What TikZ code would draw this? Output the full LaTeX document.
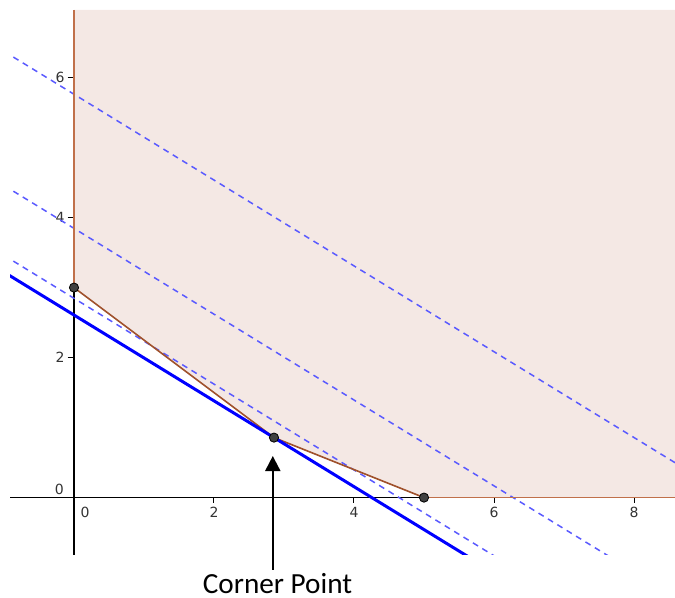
\documentclass[tikz,border=0pt]{standalone}
\usepackage{fontspec}
\setmainfont{Carlito}
\newfontfamily\axfont{DejaVu Sans}
\usetikzlibrary{arrows.meta}
\definecolor{regfill}{HTML}{F4E8E4}
\definecolor{regedge}{HTML}{C0704A}
\definecolor{regslant}{HTML}{A0522D}
\definecolor{dashblue}{HTML}{5A5AFF}
\definecolor{ptgray}{HTML}{404040}
\tikzset{
  axisline/.style={black, line width=0.6pt},
  boundary/.style={regedge, line width=0.8pt},
  slant/.style={regslant, line width=0.8pt},
  levelline/.style={dashblue, line width=0.75pt, dash pattern=on 3pt off 2.5pt},
  objline/.style={blue, line width=1.5pt},
  pt/.style={circle, fill=ptgray, draw=black, line width=0.4pt, inner sep=0pt, minimum size=4.6pt},
  ticklabel/.style={font=\axfont\fontsize{7pt}{8pt}\selectfont, text=black!80, inner sep=0pt},
  tickmark/.style={black, line width=0.5pt},
  pointer/.style={black, line width=1pt, -{Triangle[length=7.5pt,width=7.5pt]}},
  caption/.style={font=\fontsize{14.6pt}{17pt}\selectfont, inner sep=1.5pt, anchor=base}
}
\begin{document}
\begin{tikzpicture}[x=35pt, y=35pt]
\useasboundingbox (-1.0571,-1.4343) rectangle (8.5857,7.1086);
% feasible region fill
\fill[regfill] (0,6.966) -- (0,3) -- (2.857,0.857) -- (5,0) -- (8.5857,0) -- (8.5857,6.966) -- cycle;
% axes
\draw[axisline] (-0.914,0) -- (5,0);
\draw[axisline] (0,-0.82) -- (0,3);
% ticks
\foreach \v in {2,4,6} \draw[tickmark] (-0.09,\v) -- (0,\v);
\foreach \v in {2,4,6,8} \draw[tickmark] (\v,0) -- (\v,-0.075);
% tick labels
\node[ticklabel] (y0) at (-0.21,0.12) {0};
\node[ticklabel] (y2) at (-0.2,2) {2};
\node[ticklabel] (y4) at (-0.2,4) {4};
\node[ticklabel] (y6) at (-0.2,6) {6};
\node[ticklabel] (x0) at (0.157,-0.206) {0};
\node[ticklabel] (x2) at (2,-0.206) {2};
\node[ticklabel] (x4) at (4,-0.206) {4};
\node[ticklabel] (x6) at (6,-0.206) {6};
\node[ticklabel] (x8) at (8,-0.206) {8};
% level lines, clipped to the plot window
\begin{scope}
\clip (-0.914,-0.82) rectangle (8.5857,6.966);
\draw[levelline] (-1,6.375) -- (9,0.245);
\draw[levelline] (-1,4.459) -- (9,-1.671);
\draw[levelline] (-1,3.460) -- (9,-2.670);
\end{scope}
% region boundary
\draw[boundary] (0,6.966) -- (0,3);
\draw[boundary] (5,0) -- (8.5857,0);
\coordinate (A0) at (0,3);
\coordinate (C0) at (2.857,0.857);
\coordinate (B0) at (5,0);
\draw[slant] (A0) -- (C0) -- (B0);
% objective line
\begin{scope}
\clip (-0.914,-0.82) rectangle (8.5857,6.966);
\draw[objline] (-1,3.221) -- (9,-2.909);
\end{scope}
% corner points
\node[pt] (A) at (A0) {};
\node[pt] (C) at (C0) {};
\node[pt] (B) at (B0) {};
% caption and pointer
\node[caption] (cp) at (2.907,-1.363) {Corner Point};
\coordinate (tip) at (2.84,0.594);
\draw[pointer] (cp.north -| tip) -- (tip);
\end{tikzpicture}
\end{document}
